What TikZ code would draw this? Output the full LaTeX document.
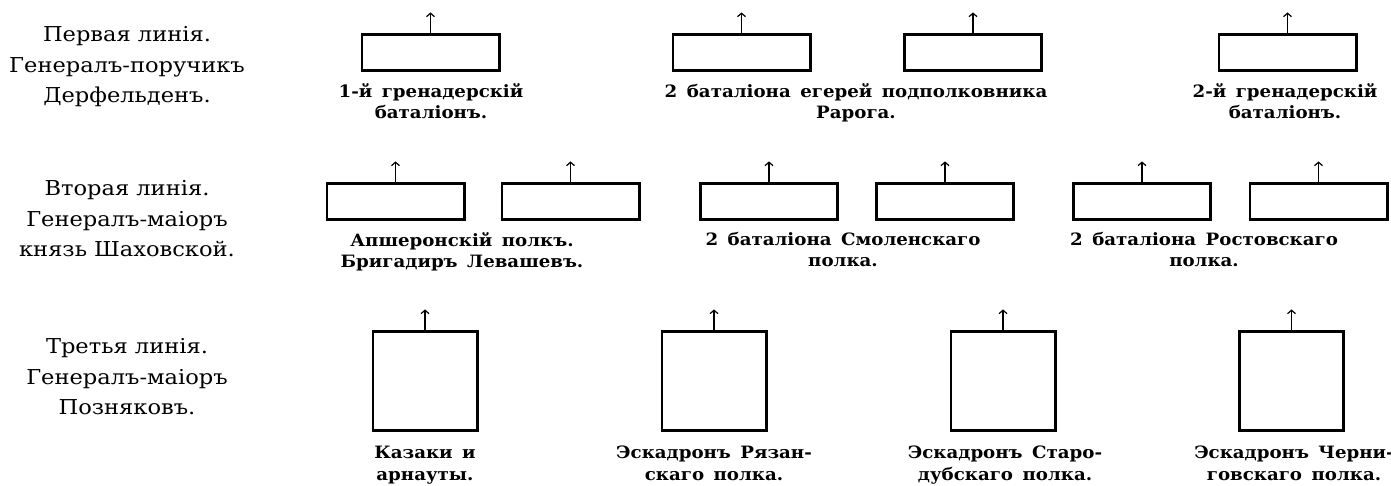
\documentclass[tikz,border=0pt]{standalone}
\usepackage{fontspec}
\setmainfont{DejaVu Serif}
\newfontfamily\leftfont[FakeStretch=1.1]{DejaVu Serif}
\newfontfamily\labfont[FakeStretch=1.07,WordSpace=1.5]{DejaVu Serif}
\usetikzlibrary{arrows.meta}
\begin{document}
\begin{tikzpicture}[x=1pt,y=-1pt,
  bx/.style={draw, line width=2.8pt, inner sep=0pt, outer sep=0pt},
  wide/.style={bx, minimum width=137.2pt, minimum height=36.2pt},
  sq/.style={bx, minimum width=104.2pt, minimum height=99.2pt},
  uparrow/.style={line width=1.2pt, -{Straight Barb[length=3.5pt,width=8pt]}},
  lab/.style={font=\labfont\bfseries\fontsize{17}{21.5}\selectfont, align=center, inner sep=0pt, anchor=north},
  lineh/.style={font=\leftfont\fontsize{20.5}{30.5}\selectfont, align=center, inner sep=0pt, anchor=north}]
\useasboundingbox[fill=white] (0,0) rectangle (1391,486);

% left headings
\node[lineh] (h1) at (127,26.4) {Первая линія.\\Генералъ-поручикъ\\Дерфельденъ.};
\node[lineh] (h2) at (127,180.4) {Вторая линія.\\Генералъ-маіоръ\\князь Шаховской.};
\node[lineh] (h3) at (127,338.4) {Третья линія.\\Генералъ-маіоръ\\Позняковъ.};

% first line
\node[wide] (b11) at (430.5,52.5) {};
\node[wide] (b12) at (741.5,52.5) {};
\node[wide] (b13) at (973,52.5) {};
\node[wide] (b14) at (1287.5,52.5) {};
% second line
\node[wide] (b21) at (395.5,201.5) {};
\node[wide] (b22) at (570.5,201.5) {};
\node[wide] (b23) at (769,201.5) {};
\node[wide] (b24) at (945,201.5) {};
\node[wide] (b25) at (1142,201.5) {};
\node[wide] (b26) at (1318.5,201.5) {};
% third line
\node[sq] (b31) at (425,381) {};
\node[sq] (b32) at (714,381) {};
\node[sq] (b33) at (1003,381) {};
\node[sq] (b34) at (1291.5,381) {};

% arrows
\foreach \b in {b11,b12,b13,b14,b21,b22,b23,b24,b25,b26,b31,b32,b33,b34}{
  \path (\b.north) ++(0,-22) coordinate (t\b);
  \draw[uparrow] (\b.north) -- (t\b);
}

% labels
\node[lab] (l11) at (431,83) {1-й гренадерскій\\баталіонъ.};
\node[lab] (l12) at (856,83) {2 баталіона егерей подполковника\\Рарога.};
\node[lab] (l13) at (1285,83) {2-й гренадерскій\\баталіонъ.};
\node[lab] (l21) at (462,232) {Апшеронскій полкъ.\\Бригадиръ Левашевъ.};
\node[lab] (l22) at (843,232) {2 баталіона Смоленскаго\\полка.};
\node[lab] (l23) at (1204,232) {2 баталіона Ростовскаго\\полка.};
\node[lab] (l31) at (425,446) {Казаки и\\арнауты.};
\node[lab] (l32) at (714,446) {Эскадронъ Рязан-\\скаго полка.};
\node[lab] (l33) at (1005,446) {Эскадронъ Старо-\\дубскаго полка.};
\node[lab] (l34) at (1294,446) {Эскадронъ Черни-\\говскаго полка.};
\end{tikzpicture}
\end{document}
